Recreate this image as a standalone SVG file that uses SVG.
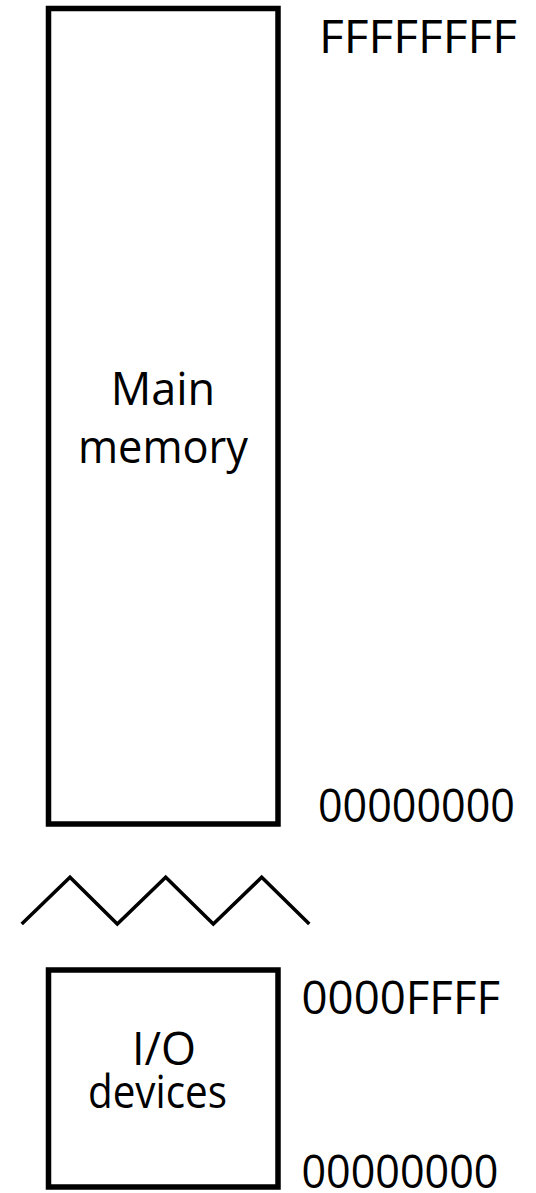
<svg xmlns="http://www.w3.org/2000/svg" width="536" height="1193" viewBox="0 0 536 1193">
<style>
.box{fill:#fff;stroke:#000;stroke-width:5.5}
.zig{fill:none;stroke:#000;stroke-width:3.5;stroke-linejoin:miter}
.t{font-family:"Open Sans","DejaVu Sans",sans-serif;font-size:45px;fill:#000}
.c{text-anchor:middle}
</style>
<rect width="536" height="1193" fill="#fff"/>
<g id="main-memory">
<rect class="box" x="48.5" y="8.5" width="229.5" height="815.5"/>
<text class="t c" x="163" y="405">Main</text>
<text class="t c" x="163" y="463" textLength="170" lengthAdjust="spacingAndGlyphs">memory</text>
</g>
<g id="io-devices">
<rect class="box" x="48.5" y="970" width="229.5" height="217"/>
<text class="t c" x="164" y="1065">I/O</text>
<text class="t c" x="157.5" y="1107.5" textLength="139" lengthAdjust="spacingAndGlyphs">devices</text>
</g>
<g id="labels">
<text class="t" x="319" y="53" textLength="198" lengthAdjust="spacingAndGlyphs">FFFFFFFF</text>
<text class="t" x="318" y="822" textLength="197" lengthAdjust="spacingAndGlyphs">00000000</text>
<text class="t" x="301.5" y="1014" textLength="198.5" lengthAdjust="spacingAndGlyphs">0000FFFF</text>
<text class="t" x="301.5" y="1187.5" textLength="197" lengthAdjust="spacingAndGlyphs">00000000</text>
</g>
<g id="connectors">
<polyline class="zig" points="21.7,924 70,877.3 117.3,924 165.7,877.3 213.3,924 261.7,877.3 309.3,924"/>
</g>
</svg>
